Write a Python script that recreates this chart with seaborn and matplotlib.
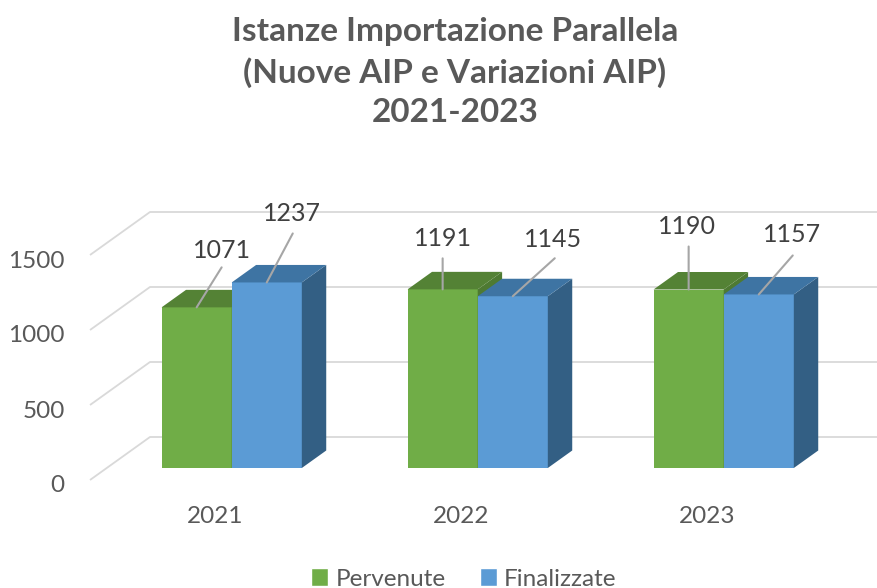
import matplotlib
matplotlib.use("Agg")
import matplotlib.pyplot as plt
from matplotlib.patches import Polygon, Patch
import seaborn as sns
import pandas as pd

# Dati
ANNI = ["2021", "2022", "2023"]
SERIE = ["Pervenute", "Finalizzate"]
PERVENUTE = [1071, 1191, 1190]
FINALIZZATE = [1237, 1145, 1157]
Y_TICKS = [0, 500, 1000, 1500]

TITOLO = "Istanze Importazione Parallela\n(Nuove AIP e Variazioni AIP)\n2021-2023"

# Colori (front, top, side)
VERDE = ("#70AD47", "#548235", "#4E7A32")
BLU = ("#5B9BD5", "#3E74A3", "#335F84")
GRIGIO_TESTO = "#595959"
GRIGIO_GRIGLIA = "#D9D9D9"
GRIGIO_LINEA = "#A6A6A6"

# Geometria pseudo-3D (in pixel)
PX_PER_UNIT = 0.15      # pixel per unità di valore
PX_PER_CAT = 246        # pixel fra categorie
FLOOR_DX_PX = 60        # profondità del pavimento
FLOOR_DY_PX = 43
BAR_FRONT_PX = 12       # barre spostate rispetto al bordo anteriore
BAR_DEPTH_PX = 17.5
LEFT_FRONT_PX = -141.7  # bordo sinistro del pavimento rispetto alla prima categoria

DX = FLOOR_DX_PX / PX_PER_CAT
DY = FLOOR_DY_PX / PX_PER_UNIT
D0 = BAR_FRONT_PX / FLOOR_DY_PX
D1 = D0 + BAR_DEPTH_PX / FLOOR_DY_PX

# Posizione delle etichette (offset in pixel: linea guida, testo)
LINEE = {"Pervenute": [(25, 40), (0, 31), (0, 43)],
         "Finalizzate": [(26, 49), (42, 38), (34, 39)]}
ETICHETTE = {"Pervenute": [(25, 57), (0, 51), (-2, 63)],
             "Finalizzate": [(25, 69), (40, 57), (33, 60)]}

df = pd.DataFrame({
    "anno": ANNI * 2,
    "tipo": [SERIE[0]] * 3 + [SERIE[1]] * 3,
    "istanze": PERVENUTE + FINALIZZATE,
})

sns.set_style("white")
plt.rcParams["font.family"] = ["Lato", "DejaVu Sans"]

fig = plt.figure(figsize=(8.77, 5.88), dpi=100)
ax = fig.add_axes([80 / 877, 90 / 588, 797 / 877, 320 / 588])

sns.barplot(data=df, x="anno", y="istanze", hue="tipo", order=ANNI, hue_order=SERIE,
            palette=[VERDE[0], BLU[0]], width=0.57, saturation=1, errorbar=None,
            legend=False, ax=ax)

x_min = (80 - 231.7) / PX_PER_CAT
x_max = x_min + 797 / PX_PER_CAT
y_min = -30 / PX_PER_UNIT
y_max = y_min + 320 / PX_PER_UNIT
ax.set_xlim(x_min, x_max)
ax.set_ylim(y_min, y_max)

# griglia prospettica: diagonale a sinistra + linea sulla parete di fondo
x_left_front = LEFT_FRONT_PX / PX_PER_CAT
for v in Y_TICKS:
    y_front = v - D0 * DY
    y_back = v + (1 - D0) * DY
    ax.plot([x_left_front, x_left_front + DX, x_max], [y_front, y_back, y_back],
            color=GRIGIO_GRIGLIA, lw=1.3, zorder=0.5, solid_capstyle="butt")

# facce 3D delle barre
barre = list(ax.patches)
ddx = (D1 - D0) * DX
ddy = (D1 - D0) * DY
for k, p in enumerate(barre):
    s = k // len(ANNI)
    i = k % len(ANNI)
    colori = VERDE if s == 0 else BLU
    z = 2 + s
    p.set_zorder(z)
    p.set_edgecolor("none")
    x0, w, h = p.get_x(), p.get_width(), p.get_height()
    side = Polygon([(x0 + w, 0), (x0 + w + ddx, ddy), (x0 + w + ddx, h + ddy), (x0 + w, h)],
                   closed=True, facecolor=colori[2], edgecolor="none", zorder=z + 0.1)
    top = Polygon([(x0, h), (x0 + w, h), (x0 + w + ddx, h + ddy), (x0 + ddx, h + ddy)],
                  closed=True, facecolor=colori[1], edgecolor="none", zorder=z + 0.2)
    ax.add_patch(side)
    ax.add_patch(top)

    nome = SERIE[s]
    xc = x0 + w / 2
    ax.annotate("", xy=(xc, h), xytext=LINEE[nome][i], textcoords="offset pixels",
                arrowprops=dict(arrowstyle="-", color=GRIGIO_LINEA, lw=1.5,
                                shrinkA=0, shrinkB=0), zorder=5)
    ax.annotate(f"{int(h)}", xy=(xc, h), xytext=ETICHETTE[nome][i], textcoords="offset pixels",
                ha="center", va="center", fontsize=18, color="#404040", zorder=6)

# assi
ax.set_yticks([v - D0 * DY - 4 / PX_PER_UNIT for v in Y_TICKS])
ax.set_yticklabels([str(v) for v in Y_TICKS])
ax.set_xticks([i - D0 * DX for i in range(len(ANNI))])
ax.set_xticklabels(ANNI)
ax.tick_params(axis="y", length=0, pad=11, labelsize=17.5, labelcolor=GRIGIO_TESTO)
ax.tick_params(axis="x", length=0, pad=6, labelsize=17.5, labelcolor=GRIGIO_TESTO)
ax.set_xlabel("")
ax.set_ylabel("")
for sp in ax.spines.values():
    sp.set_visible(False)

fig.text(455 / 877, 1 - 72 / 588, TITOLO, ha="center", va="center", fontsize=24,
         fontweight="bold", color=GRIGIO_TESTO, linespacing=1.42)

handles = [Patch(facecolor=VERDE[0], label=SERIE[0]), Patch(facecolor=BLU[0], label=SERIE[1])]
fig.legend(handles=handles, loc="center", bbox_to_anchor=(464 / 877, 9 / 588), ncol=2,
           frameon=False, fontsize=17.5, handlelength=0.7, handleheight=0.7,
           handletextpad=0.3, columnspacing=1.4, labelcolor=GRIGIO_TESTO)

fig.savefig("out.png", dpi=100)
